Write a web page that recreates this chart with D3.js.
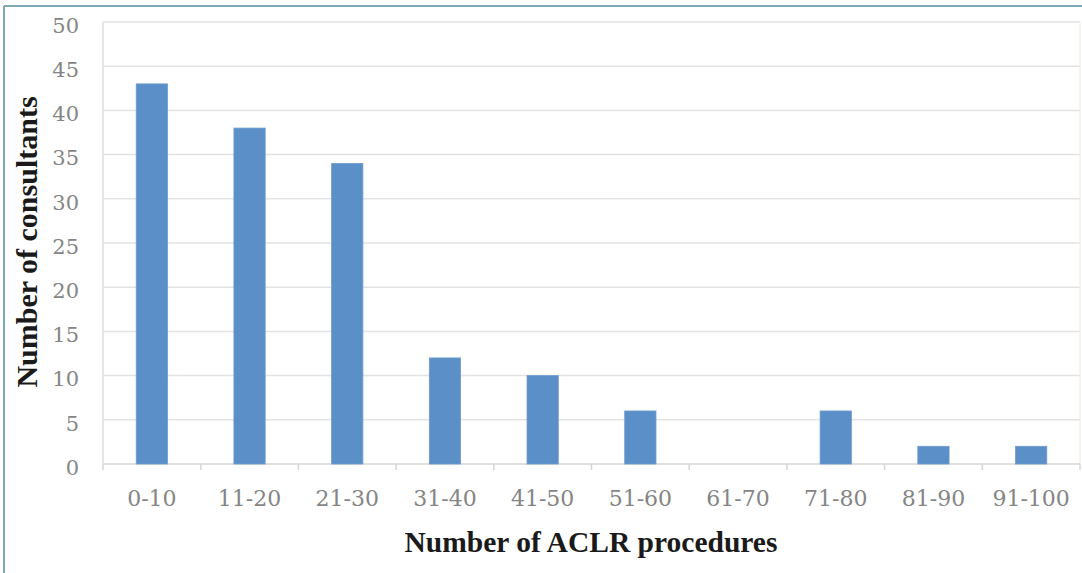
<!DOCTYPE html>
<html>
<head>
<meta charset="utf-8">
<script src="https://cdn.jsdelivr.net/npm/d3@7"></script>
<style>
  html, body { margin: 0; padding: 0; background: #fff; }
  svg { display: block; }
</style>
</head>
<body>
<svg id="chart" width="1082" height="573"></svg>
<script>
const categories = ["0-10","11-20","21-30","31-40","41-50","51-60","61-70","71-80","81-90","91-100"];
const consultants = [43, 38, 34, 12, 10, 6, 0, 6, 2, 2];
const yTicks = [0, 5, 10, 15, 20, 25, 30, 35, 40, 45, 50];
const xTitle = "Number of ACLR procedures";
const yTitle = "Number of consultants";

const svg = d3.select("#chart");
const W = 1082, H = 573;
const m = { left: 103, right: 2, top: 22, bottom: 109 };

// frame border (teal, left and top)
svg.append("line").attr("x1", 4).attr("x2", 4).attr("y1", 6).attr("y2", H)
  .attr("stroke", "#7ea9b1").attr("stroke-width", 2);
svg.append("line").attr("x1", 4).attr("x2", W).attr("y1", 6).attr("y2", 6)
  .attr("stroke", "#7ea9b1").attr("stroke-width", 2);

const x = d3.scaleBand().domain(categories).range([m.left, W - m.right]).paddingInner(0.68).paddingOuter(0.34);
const xb = d3.scaleBand().domain(categories).range([m.left, W - m.right]);
const y = d3.scaleLinear().domain([0, 50]).range([H - m.bottom, m.top]);

// gridlines
svg.append("g").selectAll("line").data(yTicks.filter(d => d > 0)).join("line")
  .attr("x1", m.left).attr("x2", W - m.right)
  .attr("y1", d => y(d)).attr("y2", d => y(d))
  .attr("stroke", "#e3e3e3").attr("stroke-width", 1.5);

// right plot edge (faint)
svg.append("line").attr("x1", W - m.right).attr("x2", W - m.right)
  .attr("y1", m.top).attr("y2", y(0))
  .attr("stroke", "#f0e4e0").attr("stroke-width", 1);

// left axis line
svg.append("line").attr("x1", m.left).attr("x2", m.left)
  .attr("y1", m.top).attr("y2", y(0))
  .attr("stroke", "#dcdcdc").attr("stroke-width", 1.5);

// y axis labels
const yAxis = d3.axisLeft(y).tickValues(yTicks).tickSize(0).tickPadding(0);
const gy = svg.append("g").attr("transform", `translate(79,3.5)`).call(yAxis);
gy.select(".domain").remove();
gy.selectAll("text")
  .attr("font-family", "'DejaVu Serif', serif").attr("font-size", 21)
  .attr("fill", "#858585");

// x axis
const boundaries = categories.map(c => xb(c)).concat([W - m.right]);
svg.append("line").attr("x1", m.left).attr("x2", W - m.right)
  .attr("y1", y(0)).attr("y2", y(0))
  .attr("stroke", "#d6d6d6").attr("stroke-width", 1.5);
svg.append("g").selectAll("line").data(boundaries).join("line")
  .attr("x1", d => d).attr("x2", d => d)
  .attr("y1", y(0)).attr("y2", y(0) + 6)
  .attr("stroke", "#d6d6d6").attr("stroke-width", 1.5);

const xAxis = d3.axisBottom(xb).tickSize(0).tickPadding(0);
const gx = svg.append("g").attr("transform", `translate(0,${y(0) + 26.4})`).call(xAxis);
gx.select(".domain").remove();
gx.selectAll("text")
  .attr("font-family", "'DejaVu Serif', serif").attr("font-size", 22)
  .attr("fill", "#858585");

// bars
svg.append("g").selectAll("rect").data(consultants).join("rect")
  .attr("x", (d, i) => x(categories[i]))
  .attr("width", x.bandwidth())
  .attr("y", d => y(d))
  .attr("height", d => y(0) - y(d))
  .attr("fill", "#5b8fc8")
  .attr("stroke", "#6d9bd0").attr("stroke-width", 0.8);

// axis titles
svg.append("text")
  .attr("x", 591).attr("y", 552)
  .attr("text-anchor", "middle")
  .attr("font-family", "'Liberation Serif', serif").attr("font-weight", "bold")
  .attr("font-size", 29.5).attr("fill", "#1a1a1a")
  .text(xTitle);

svg.append("text")
  .attr("transform", `translate(37,242) rotate(-90)`)
  .attr("text-anchor", "middle")
  .attr("font-family", "'Liberation Serif', serif").attr("font-weight", "bold")
  .attr("font-size", 30).attr("fill", "#1a1a1a")
  .text(yTitle);
</script>
</body>
</html>
